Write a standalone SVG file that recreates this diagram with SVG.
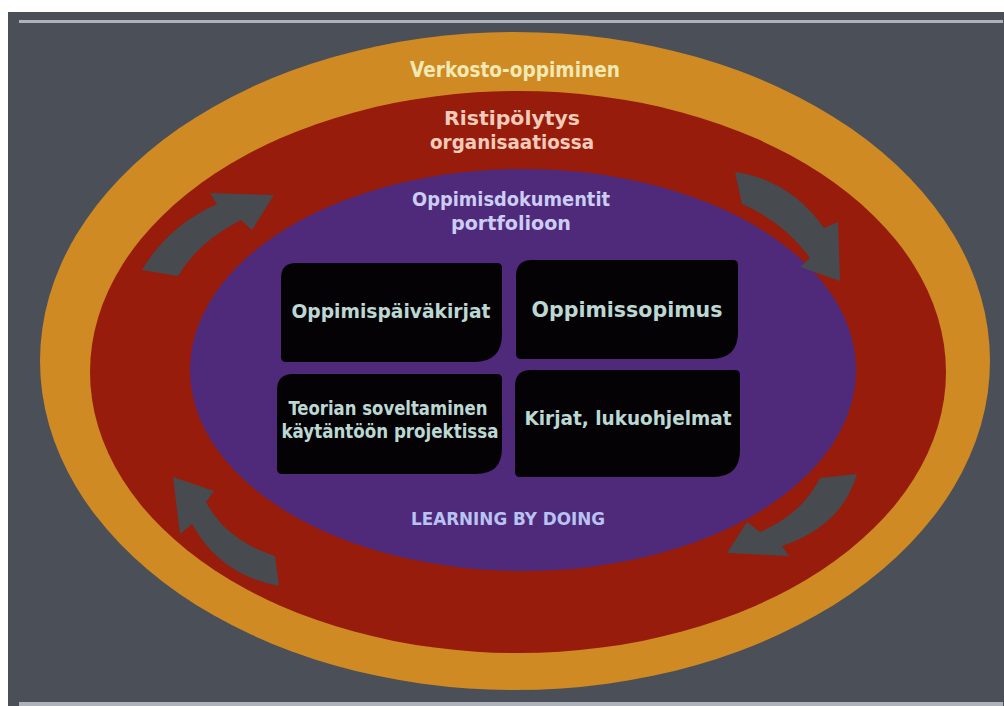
<svg xmlns="http://www.w3.org/2000/svg" width="1004" height="706" viewBox="0 0 1004 706">
<style>
.t{font-family:"DejaVu Sans Condensed","DejaVu Sans","Liberation Sans",sans-serif;font-weight:bold;text-anchor:middle}
.box{fill:#050206}
.arrow{fill:#474a4f}
.bt{fill:#bcd8d2}
</style>
<rect width="1004" height="706" fill="#ffffff"/>
<rect x="8" y="12" width="996" height="694" fill="#4b4f58"/>
<rect x="19" y="20" width="984" height="3" fill="#aeb2ba"/>
<rect x="19" y="702" width="984" height="4" fill="#aeb2ba"/>
<g id="ring-orange"><ellipse cx="515" cy="361" rx="475" ry="329" fill="#cf8a23"/>
<text class="t" x="515" y="77" font-size="21" fill="#f1e9b4" textLength="210" lengthAdjust="spacingAndGlyphs">Verkosto-oppiminen</text></g>
<g id="ring-red"><ellipse cx="518" cy="372" rx="428" ry="281" fill="#981c0c"/>
<text class="t" x="512" y="125" font-size="20" fill="#f0cbb9" textLength="136" lengthAdjust="spacingAndGlyphs">Ristipölytys</text>
<text class="t" x="512" y="149" font-size="20" fill="#f0cbb9" textLength="164" lengthAdjust="spacingAndGlyphs">organisaatiossa</text></g>
<g id="ring-purple"><ellipse cx="523" cy="370" rx="333" ry="201" fill="#4f2a7b"/>
<text class="t" x="511" y="206" font-size="20" fill="#cbcdf3" textLength="198" lengthAdjust="spacingAndGlyphs">Oppimisdokumentit</text>
<text class="t" x="511" y="230" font-size="20" fill="#cbcdf3" textLength="120" lengthAdjust="spacingAndGlyphs">portfolioon</text>
<text class="t" x="508" y="525" font-size="18" fill="#b9c3f2" textLength="194" lengthAdjust="spacingAndGlyphs">LEARNING BY DOING</text></g>
<g id="box1"><path class="box" d="M296,263 H497 Q502,263 502,268 V334 Q502,362 474,362 H286 Q281,362 281,357 V278 Q281,263 296,263 Z"/>
<text class="t bt" x="391" y="318" font-size="19" textLength="199" lengthAdjust="spacingAndGlyphs">Oppimispäiväkirjat</text></g>
<g id="box2"><path class="box" d="M532,260 H733 Q738,260 738,265 V332 Q738,359 711,359 H521 Q516,359 516,354 V276 Q516,260 532,260 Z"/>
<text class="t bt" x="627" y="317" font-size="22" textLength="191" lengthAdjust="spacingAndGlyphs">Oppimissopimus</text></g>
<g id="box3"><path class="box" d="M293,374 H497 Q502,374 502,379 V448 Q502,474 476,474 H282 Q277,474 277,469 V390 Q277,374 293,374 Z"/>
<text class="t bt" x="388" y="415" font-size="19" textLength="199" lengthAdjust="spacingAndGlyphs">Teorian soveltaminen</text>
<text class="t bt" x="390" y="438" font-size="19" textLength="217" lengthAdjust="spacingAndGlyphs">käytäntöön projektissa</text></g>
<g id="box4"><path class="box" d="M531,370 H735 Q740,370 740,375 V450 Q740,477 713,477 H520 Q515,477 515,472 V386 Q515,370 531,370 Z"/>
<text class="t bt" x="628" y="425" font-size="20" textLength="207" lengthAdjust="spacingAndGlyphs">Kirjat, lukuohjelmat</text></g>
<g id="connectors">
<path class="arrow" d="M142,270 Q168,226 217,204 L210,193 L274,195 L252,230 L241,220 Q198,242 178,276 Z"/>
<path class="arrow" d="M735,172 Q790,180 824,228 L838,222 L840,281 L800,267 L810,258 Q784,222 742,204 Z"/>
<path class="arrow" d="M173,477 L214,491 L206,502 Q226,540 275,556 L279,586 Q220,575 192,524 L180,534 Z"/>
<path class="arrow" d="M820,478 L857,474 Q842,526 782,546 L789,556 L727,553 L747,522 L760,532 Q802,514 820,478 Z"/>
</g>
</svg>
